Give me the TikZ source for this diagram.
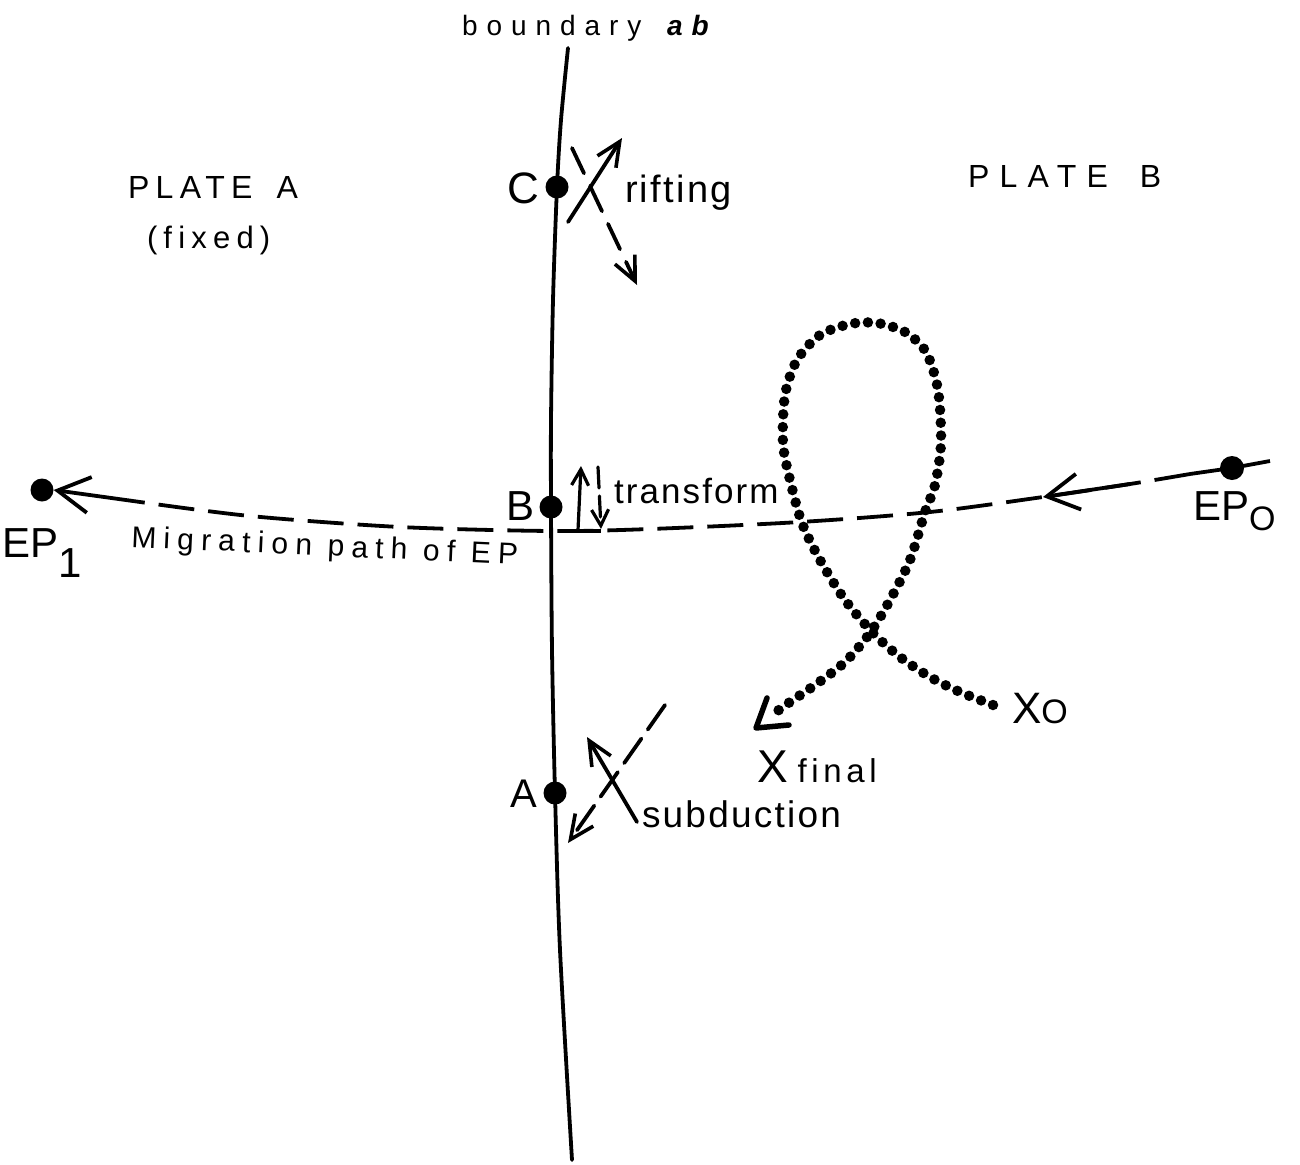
\documentclass[tikz,border=0pt]{standalone}
\usepackage{fontspec}
\setmainfont{Liberation Sans}
\newfontfamily\wideA[LetterSpace=20]{Liberation Sans}
\newfontfamily\wideB[LetterSpace=32]{Liberation Sans}
\newfontfamily\wideM[LetterSpace=24]{Liberation Sans}
\newfontfamily\wideC[LetterSpace=6]{Liberation Sans}
\newfontfamily\wideD[LetterSpace=14]{Liberation Sans}
\usetikzlibrary{arrows.meta}
\tikzset{
  ln/.style={line width=3.8pt, line cap=round},
  dotnode/.style={circle, fill=black, inner sep=0pt, minimum size=23pt},
  lab/.style={inner sep=0pt, outer sep=0pt},
  barbA/.style={-{Straight Barb[length=24pt,width=22pt,line width=3.6pt]}},
  barbB/.style={-{Straight Barb[length=32pt,width=36pt,line width=3.8pt]}},
  migr/.style={line width=3.8pt, dash pattern=on 36pt off 14pt},
  loopdots/.style={line width=10.5pt, line cap=round, dash pattern=on 0pt off 12.8pt}
}
\begin{document}
\begin{tikzpicture}[x=1pt,y=-1pt]
\useasboundingbox (0,0) rectangle (1300,1164);
\fill[white] (0,0) rectangle (1300,1164);

% boundary line
\draw[ln] plot[smooth] coordinates {(568,48) (561,120) (557,187) (553,300) (551,420) (551,507) (552,650) (555,793) (560,950) (572,1160)};
\node[lab, anchor=base west] (bnd) at (462,36) {\fontsize{28}{28}\selectfont\wideB boundary \textbf{\textit{ab}}};

% plate labels
\node[lab, anchor=base west] (pa) at (128,198) {\fontsize{32}{32}\selectfont\wideA PLATE\hspace{24pt}A};
\node[lab, anchor=base west] (pf) at (147,248) {\fontsize{31}{31}\selectfont\wideA (fixed)};
\node[lab, anchor=base west] (pb) at (968,187) {\fontsize{32}{32}\selectfont\wideB PLATE\hspace{32pt}B};

% points on boundary
\node[dotnode] (C) at (557,187) {};
\node[dotnode] (B) at (551,507) {};
\node[dotnode] (A) at (555,793) {};
\node[lab, anchor=base east] (Cl) at (539,203) {\fontsize{44}{44}\selectfont C};
\node[lab, anchor=base east] (Bl) at (535,520) {\fontsize{42}{42}\selectfont B};
\node[lab, anchor=base east] (Al) at (537,807) {\fontsize{40}{40}\selectfont A};

% rifting
\coordinate (r1) at (568,222);
\coordinate (r2) at (622,138);
\coordinate (r3) at (572,148);
\coordinate (r4) at (637,285);
\draw[ln, barbA] (r1) -- (r2);
\draw[ln, barbA, dash pattern=on 28pt off 14pt] (r3) -- (r4);
\node[lab, anchor=base west] (rift) at (625,202) {\fontsize{38}{38}\selectfont\wideC rifting};

% transform
\coordinate (t1) at (578,530);
\coordinate (t2) at (581,466);
\coordinate (t3) at (598,467);
\coordinate (t4) at (601,529);
\draw[ln, line width=3.2pt, -{Straight Barb[length=16pt,width=17pt,line width=3.2pt]}] (t1) -- (t2);
\draw[ln, line width=3.2pt, dash pattern=on 21pt off 8pt, -{Straight Barb[length=16pt,width=17pt,line width=3.2pt]}] (t3) -- (t4);
\node[lab, anchor=base west] (tr) at (614,503) {\fontsize{35}{35}\selectfont\wideC transform};

% subduction
\coordinate (s1) at (637,822);
\coordinate (s2) at (587,737);
\coordinate (s3) at (665,705);
\coordinate (s4) at (568,843);
\draw[ln, barbA] (s1) -- (s2);
\draw[ln, barbA, dash pattern=on 30pt off 11pt] (s3) -- (s4);
\node[lab, anchor=base west] (sub) at (642,827) {\fontsize{37}{37}\selectfont\wideC subduction};

% migration path
\node[dotnode, minimum size=24pt] (EP0) at (1232,468) {};
\node[dotnode] (EP1) at (42,490) {};
\draw[migr] plot[smooth] coordinates {(1190,474) (1130,484) (1043,497) (930,512) (800,522) (650,529) (551,531) (400,527) (250,516) (133,501)};
\draw[line width=3.8pt] (1270,461) -- (EP0.center) -- (1190,474);
\draw[line width=3.8pt, barbB] (1130,484) -- (1043,497);
\draw[line width=3.8pt, barbB] (133,501) -- (EP1.east);
\draw[line width=3.8pt] (578,531) -- (601,531);
\node[lab, anchor=base west, rotate=-2.6] (mig) at (131,547) {\fontsize{30}{30}\selectfont\wideM Migration path of EP};
\node[lab, anchor=base west] (ep1l) at (2,557) {\fontsize{42}{42}\selectfont EP\raisebox{-20pt}{1}};
\node[lab, anchor=base west] (ep0l) at (1193,520) {\fontsize{42}{42}\selectfont EP\raisebox{-10pt}{\fontsize{34}{34}\selectfont O}};

% dotted loop
\coordinate (x0) at (993,705);
\coordinate (xe) at (772,715);
\draw[loopdots] plot[smooth] coordinates {(993,705) (960,692) (930,677) (900,657) (873,633) (845,600) (820,560) (802,523) (790,480) (783,443) (785,395) (797,360) (820,335) (850,324) (877,323) (905,332) (926,352) (938,390) (941,443) (935,485) (925,512) (910,560) (890,600) (870,633) (845,662) (815,685) (790,702) (772,715)};
\coordinate (xt) at (756,728);
\draw[line width=5.5pt, line cap=round, line join=round] (767,698) -- (xt) -- (789,725);
\node[lab, anchor=base west] (xol) at (1012,723) {\fontsize{44}{44}\selectfont X\fontsize{34}{34}\selectfont O};
\node[lab, anchor=base west] (xfl) at (757,782) {\fontsize{46}{46}\selectfont X\hspace{10pt}\fontsize{33}{33}\selectfont\wideD final};
\end{tikzpicture}
\end{document}
